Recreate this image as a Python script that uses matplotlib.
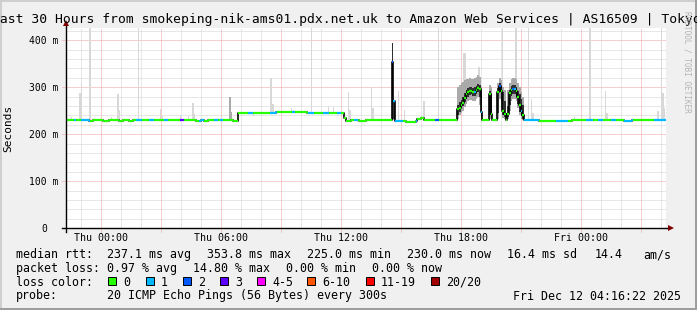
import matplotlib
matplotlib.use("Agg")
import matplotlib.pyplot as plt
from matplotlib.patches import Rectangle
import numpy as np

W, H = 697, 310

# time axis: hours relative to Thu 00:00, values in ms
t_start, t_end = -1.733, 28.267
sample = 1 / 12  # 300 s steps

# median rtt (step breakpoints)
med_t = [-1.733, -0.6, -0.4, 0.1, 0.4, 0.9, 1.1, 1.4, 1.6, 4.75, 5.0, 5.15, 5.35,
         6.63, 6.88, 8.75, 10.33, 12.17, 12.25, 12.5, 12.9, 13.25,
         14.55, 14.63, 14.71, 15.25, 15.75, 15.83, 16.0, 16.17, 16.42, 16.7,
         17.83, 17.92, 18.0, 18.08, 18.17, 18.25, 18.33, 18.42, 18.5, 18.58, 18.67, 18.75, 18.83, 18.92,
         19.0, 19.08, 19.42, 19.5, 19.58, 19.83, 19.92, 20.0, 20.08, 20.17, 20.25, 20.33,
         20.42, 20.5, 20.58, 20.67, 20.75, 20.83, 20.92, 21.0, 21.08, 21.17,
         21.9, 23.58, 26.17, 26.58]
med_v = [230, 229, 230, 229, 230, 229, 230, 229, 230, 229, 230, 229, 230,
         229, 246, 247.5, 246, 235, 229, 231, 229, 230,
         354, 271, 229, 225.5, 229, 232.5, 235.5, 231, 229.5, 230,
         253, 256, 262, 267, 277, 285, 289, 291, 292, 289, 290, 295, 299, 297,
         247, 230, 285, 244, 230, 290, 303, 291, 250, 243, 230, 244,
         287, 295, 297, 297, 291, 280, 262, 250, 241, 230,
         228, 231, 227.5, 230]

# packet loss periods (start, end, loss class index); everything else is 0
loss_t0 = [-1.35, -1.0, 1.75, 2.4, 3.15, 3.95, 4.9, 5.65, 5.95, 7.35, 8.45, 9.55, 10.35,
           11.1, 11.8, 12.65, 14.55, 14.63, 15.75, 16.7, 18.67, 19.0, 19.92, 20.58,
           20.67, 21.0, 21.17, 22.75, 24.25, 24.85, 25.5, 26.15, 27.65]
loss_t1 = [-1.25, -0.55, 2.05, 2.67, 3.35, 4.15, 5.15, 5.85, 6.1, 7.6, 8.8, 9.7, 10.67,
           11.4, 12.0, 12.85, 14.63, 15.1, 15.83, 16.9, 18.75, 19.08, 20.0, 20.67,
           20.75, 21.08, 21.9, 23.35, 24.6, 25.1, 25.75, 26.6, 28.27]
loss_lvl = [1, 1, 1, 1, 1, 3, 1, 1, 1, 1, 1, 1, 1,
            1, 1, 1, 2, 1, 1, 2, 1, 1, 2, 2,
            1, 1, 1, 1, 1, 1, 1, 1, 1]

# single outlier pings (light smoke)
spike_t = [-1.5, -1.08, -1.0, -0.58, 0.5, 0.83, 0.9, 1.85, 2.95, 3.05, 3.95, 4.35,
           4.58, 4.65, 5.85, 7.6, 8.48, 8.58, 9.5, 9.6, 10.5, 11.35, 11.6, 12.35,
           12.42, 13.5, 13.58, 14.85, 15.15, 16.12, 16.85, 18.1, 18.17, 18.88, 20.05, 20.72,
           21.35, 21.5, 21.58, 23.65, 24.42, 25.2, 25.28, 27.83, 28.0, 28.08, 28.15]
spike_hi = [236, 288, 308, 426, 236, 286, 252, 426, 254, 238, 241, 238,
            266, 244, 234, 238, 320, 264, 256, 252, 426, 259, 259, 290,
            252, 300, 255, 292, 252, 271, 426, 372, 372, 344, 426, 426,
            426, 276, 245, 236, 426, 292, 245, 250, 426, 288, 255]

# dense smoke (spread of the 20 pings)
smoke_t = [6.42, 6.5, 14.55, 14.63, 17.83, 17.92, 18.0, 18.08, 18.17, 18.25, 18.33, 18.42,
           18.5, 18.58, 18.67, 18.75, 18.83, 18.92, 19.0, 19.42, 19.5, 19.83, 19.92, 20.0,
           20.08, 20.17, 20.33, 20.42, 20.5, 20.58, 20.67, 20.75, 20.83, 20.92, 21.0, 21.08]
haze_lo = [230, 230, 230, 230, 232, 240, 245, 250, 258, 265, 270, 272,
           272, 270, 270, 275, 280, 262, 232, 232, 232, 232, 275, 255,
           235, 232, 232, 250, 270, 275, 275, 270, 255, 240, 232, 230]
haze_hi = [280, 247, 395, 271, 300, 305, 310, 312, 315, 318, 318, 320,
           318, 318, 320, 322, 325, 322, 300, 305, 300, 310, 320, 315,
           300, 295, 295, 310, 318, 320, 320, 318, 310, 300, 290, 280]
core_lo = [230, 230, 232, 232, 240, 248, 255, 260, 268, 276, 280, 284,
           285, 282, 282, 286, 290, 280, 238, 240, 236, 245, 290, 270,
           240, 236, 236, 262, 282, 286, 286, 280, 265, 248, 238, 233]
core_hi = [230, 230, 395, 271, 262, 268, 272, 280, 288, 295, 298, 300,
           300, 298, 300, 303, 306, 305, 290, 292, 285, 298, 310, 300,
           290, 270, 260, 295, 302, 305, 305, 300, 292, 285, 275, 262]

loss_colors = ["#26ff00", "#00b8ff", "#0059ff", "#5e00ff", "#ff00ff", "#ff5500", "#ff0000", "#a00000"]
loss_labels = ["0", "1", "2", "3", "4-5", "6-10", "11-19", "20/20"]

x_ticks = [0, 6, 12, 18, 24]
x_tick_labels = ["Thu 00:00", "Thu 06:00", "Thu 12:00", "Thu 18:00", "Fri 00:00"]
y_ticks = [0, 100, 200, 300, 400]
y_tick_labels = ["0", "100 m", "200 m", "300 m", "400 m"]

MONO = "DejaVu Sans Mono"


def fx(x):
    return x / W


def fy(y):
    return 1 - y / H


def median_at(t):
    i = np.searchsorted(med_t, t, side="right") - 1
    return med_v[max(i, 0)]


def loss_at(t):
    for a, b, l in zip(loss_t0, loss_t1, loss_lvl):
        if a <= t < b:
            return l
    return 0


fig = plt.figure(figsize=(W / 100, H / 100), dpi=100, facecolor="#f0f0f0")
ax = fig.add_axes([fx(66), fy(228.3), 600 / W, 200.3 / H])
ax.set_facecolor("white")
ax.set_xlim(t_start, t_end)
ax.set_ylim(0, 426)
for s in ax.spines.values():
    s.set_visible(False)
ax.set_xticks([])
ax.set_yticks([])

# grid
dot = (0, (1, 1))
for v in range(20, 421, 20):
    if v % 100 == 0:
        ax.plot([t_start - 0.2, t_end], [v, v], color="#f09c9c", lw=0.72, ls=dot, zorder=1, clip_on=False)
    else:
        ax.plot([t_start, t_end], [v, v], color="#d0d0d0", lw=0.72, ls=dot, zorder=1)
for h in range(-1, 29):
    if h % 3 == 0:
        ax.plot([h, h], [-7, 426], color="#f09c9c", lw=0.72, ls=dot, zorder=1, clip_on=False)
    else:
        ax.plot([h, h], [0, 426], color="#d0d0d0", lw=0.72, ls=dot, zorder=1)

# light smoke spikes
spike_base = [median_at(t) for t in spike_t]
ax.bar(spike_t, np.array(spike_hi) - np.array(spike_base), bottom=spike_base,
       width=sample, align="edge", color="#d8d8d8", lw=0, zorder=2)

# dense smoke
ax.bar(smoke_t, np.array(haze_hi) - np.array(haze_lo), bottom=haze_lo,
       width=sample, align="edge", color="#aaaaaa", lw=0, zorder=3)
ax.bar(smoke_t, np.array(core_hi) - np.array(core_lo), bottom=core_lo,
       width=sample, align="edge", color="#303030", lw=0, zorder=4)

# median line: black connectors, then loss coloured segments
ax.step(med_t + [t_end], med_v + [med_v[-1]], where="post", color="black", lw=1.2, zorder=5)
edges = sorted(set([t for t in med_t + loss_t0 + loss_t1 if t_start <= t < t_end] + [t_start, t_end]))
for a, b in zip(edges[:-1], edges[1:]):
    ax.hlines(median_at(a), a, b, color=loss_colors[loss_at(a)], lw=1.6, zorder=6)

# axes with arrows
ax.plot([t_start, t_start], [-8, 432], color="black", lw=1, zorder=7, clip_on=False)
ax.plot([t_start], [436], marker="^", ms=4.5, color="#800000", mew=0, clip_on=False, zorder=8)
ax.plot([t_start - 0.2, t_end + 0.17], [0, 0], color="black", lw=1, zorder=7, clip_on=False)
ax.plot([t_end + 0.27], [0], marker=">", ms=4.5, color="#800000", mew=0, clip_on=False, zorder=8)

# tick labels
for h, lab in zip(x_ticks, x_tick_labels):
    fig.text(fx(66 + (h - t_start) * 20), fy(240.7), lab, ha="center", va="baseline",
             family=MONO, fontsize=7.2)
for v, lab in zip(y_ticks, y_tick_labels):
    xr = 47.5 if v == 0 else 58.5
    fig.text(fx(xr), fy(228.3 - v * 0.4695 + 3.2), lab, ha="right", va="baseline",
             family=MONO, fontsize=7.0)
fig.text(fx(8), 0.5 * (fy(28) + fy(228)), "Seconds", rotation=90, ha="center", va="center",
         family=MONO, fontsize=8.0)

# title
fig.text(fx(346), fy(23.5),
         "Last 30 Hours from smokeping-nik-ams01.pdx.net.uk to Amazon Web Services | AS16509 | Tokyo",
         ha="center", va="baseline", family=MONO, fontsize=9.4)

# watermark
fig.text(fx(687), fy(62), "RRDTOOL / TOBI OETIKER", rotation=270, ha="center", va="center",
         family=MONO, fontsize=5.6, color="#b4b4b4")

# legend rows
lf = 8.4
rows = [
    (258, [(16, "median rtt:"), (107, "237.1 ms avg"), (207, "353.8 ms max"), (307, "225.0 ms min"),
           (407, "230.0 ms now"), (507, "16.4 ms sd"), (595, "14.4"), (643, "am/s")]),
    (272, [(16, "packet loss:"), (107, "0.97 % avg"), (193, "14.80 % max"), (286, "0.00 % min"),
           (372, "0.00 % now")]),
    (285.8, [(16, "loss color:")]),
    (299.5, [(16, "probe:"), (107, "20 ICMP Echo Pings (56 Bytes) every 300s"),
             (513, "Fri Dec 12 04:16:22 2025")]),
]
for yb, items in rows:
    for x, s in items:
        fig.text(fx(x), fy(yb), s, ha="left", va="baseline", family=MONO, fontsize=lf)

box_x = [108, 146, 183, 220, 257, 307, 366, 431]
for bx, col, lab in zip(box_x, loss_colors, loss_labels):
    fig.add_artist(Rectangle((fx(bx), fy(285.3)), 8 / W, 8 / H, transform=fig.transFigure,
                             facecolor=col, edgecolor="black", lw=0.7))
    fig.text(fx(bx + 15), fy(285.8), lab, ha="left", va="baseline", family=MONO, fontsize=lf)

# 3d frame
for (x0, y0, w, h, c) in [(0, 0, W, 2, "#cfcfcf"), (0, 0, 2, H, "#cfcfcf"),
                          (0, H - 2, W, 2, "#9e9e9e"), (W - 2, 0, 2, H, "#9e9e9e")]:
    fig.add_artist(Rectangle((fx(x0), fy(y0 + h)), w / W, h / H, transform=fig.transFigure,
                             facecolor=c, lw=0))

fig.savefig("out.png", dpi=100, facecolor=fig.get_facecolor())
